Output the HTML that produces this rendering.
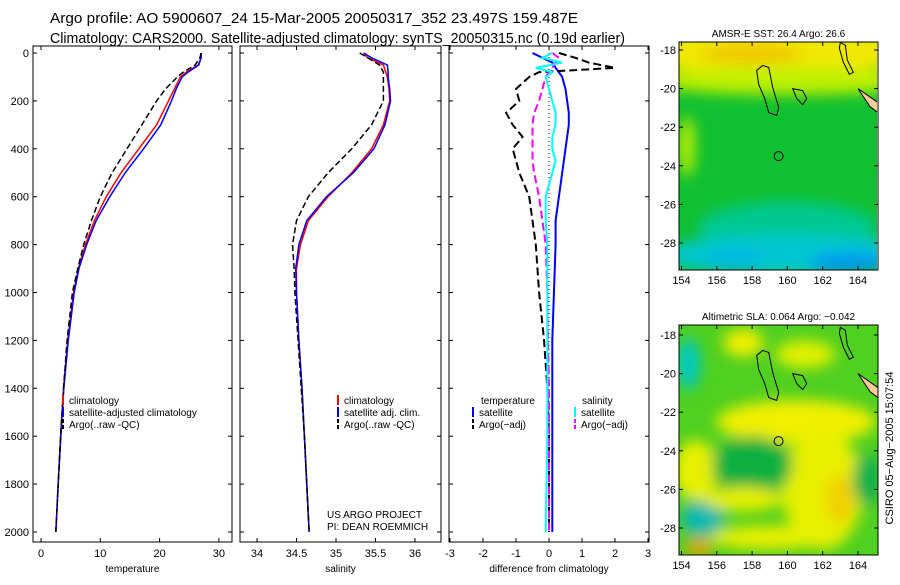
<!DOCTYPE html>
<html><head><meta charset="utf-8"><style>
body{margin:0;background:#fff;font-family:"Liberation Sans",sans-serif}
svg text{font-family:"Liberation Sans",sans-serif;fill:#000}
</style></head><body>
<svg id="c" width="900" height="580" xmlns="http://www.w3.org/2000/svg">
<defs>
<filter id="bl" x="-20%" y="-20%" width="140%" height="140%"><feGaussianBlur stdDeviation="7"/></filter>
<clipPath id="m1c"><rect x="679" y="42" width="198" height="228"/></clipPath>
<clipPath id="m2c"><rect x="679" y="325" width="199" height="230"/></clipPath>
</defs>
<text x="50" y="23" font-size="15" textLength="528" lengthAdjust="spacingAndGlyphs">Argo profile: AO 5900607_24 15-Mar-2005 20050317_352 23.497S 159.487E</text>
<text x="50" y="43" font-size="15" textLength="575" lengthAdjust="spacingAndGlyphs">Climatology: CARS2000. Satellite-adjusted climatology: synTS_20050315.nc (0.19d earlier)</text>
<g id="g"></g>
</svg>
<script>
const depths=[0,20,50,80,100,150,200,300,400,500,600,700,800,900,1000,1200,1400,1600,1800,2000];
const tClim=[27,27,26.5,24.5,23.5,22.5,21.5,19.5,16.5,13.5,11,9,7.5,6.3,5.5,4.5,3.8,3.3,2.9,2.5];
const tSat=[27,27,26.6,24.8,23.8,22.8,22,20.2,17.3,14.2,11.6,9.3,7.7,6.4,5.6,4.6,3.85,3.35,2.9,2.5];
const tArgo=[27,26.8,26,24,23,21,19.5,17,14.5,12,10,8.5,7.2,6.2,5.3,4.4,3.8,3.3,2.9,2.5];
const sClim=[35.35,35.4,35.6,35.63,35.65,35.67,35.68,35.6,35.45,35.2,34.9,34.65,34.55,34.5,34.5,34.53,34.57,34.6,34.63,34.66];
const sSat=[35.35,35.45,35.65,35.66,35.66,35.68,35.69,35.62,35.48,35.22,34.88,34.63,34.53,34.49,34.5,34.53,34.57,34.6,34.63,34.66];
const sArgo=[35.3,35.4,35.55,35.6,35.6,35.6,35.6,35.45,35.2,34.9,34.65,34.5,34.45,34.47,34.48,34.52,34.56,34.6,34.63,34.66];
const dDepths=[0,20,40,62,80,100,150,200,250,300,350,400,450,500,600,700,800,1000,1200,1400,1600,2000];
const dTSat=[-0.5,-0.2,0.1,0.2,0.3,0.4,0.5,0.55,0.6,0.6,0.55,0.5,0.45,0.4,0.3,0.2,0.2,0.15,0.1,0.1,0.1,0.1];
const dTArgo=[0.3,0.8,1.2,2.0,-0.3,-0.6,-1.0,-0.9,-1.3,-1.1,-0.8,-1.1,-1.0,-0.9,-0.6,-0.5,-0.4,-0.3,-0.15,-0.05,0,0];
const dSSat=[0.1,-0.2,0.4,-0.4,0.1,-0.1,0.0,0.1,0.2,0.2,0.1,0.1,0.2,0.1,-0.1,-0.1,-0.05,-0.05,-0.05,-0.05,-0.05,-0.1];
const dSArgo=[0.1,0.3,0.2,0.1,0.0,-0.1,-0.2,-0.3,-0.45,-0.5,-0.5,-0.5,-0.5,-0.45,-0.3,-0.2,-0.1,-0.05,-0.03,0,0,0];
const yTicks=[0,200,400,600,800,1000,1200,1400,1600,1800,2000];
const tTicks=[0,10,20,30],sTicks=[34,34.5,35,35.5,36],dTicks=[-3,-2,-1,0,1,2,3];
const lonTicks=[154,156,158,160,162,164],latTicks=[-18,-20,-22,-24,-26,-28];
const NS="http://www.w3.org/2000/svg",G=document.getElementById('g');
function el(t,a,p){const e=document.createElementNS(NS,t);for(const k in a)e.setAttribute(k,a[k]);(p||G).appendChild(e);return e;}
const Y=d=>53+d*0.2395;
const xT=v=>41+v*5.93,xS=v=>257+(v-34)*79,xD=v=>549+v*33;
function panel(name,x0,x1,xf,ticks,lab,labels){
  const g=el('g',{});
  el('rect',{x:x0,y:46,width:x1-x0,height:496,fill:'none',stroke:'#000'},g);
  yTicks.forEach(d=>{el('line',{x1:x0,x2:x0+4,y1:Y(d),y2:Y(d),stroke:'#000'},g);el('line',{x1:x1-4,x2:x1,y1:Y(d),y2:Y(d),stroke:'#000'},g);
    if(labels){const t=el('text',{x:x0-4,y:Y(d)+4,'font-size':11,'text-anchor':'end'},g);t.textContent=d;}});
  ticks.forEach(v=>{el('line',{x1:xf(v),x2:xf(v),y1:542,y2:538,stroke:'#000'},g);el('line',{x1:xf(v),x2:xf(v),y1:46,y2:50,stroke:'#000'},g);
    const t=el('text',{x:xf(v),y:557,'font-size':11,'text-anchor':'middle'},g);t.textContent=v;});
  const t=el('text',{x:(x0+x1)/2,y:572,'font-size':10,'text-anchor':'middle'},g);t.textContent=lab;return g;}
function line(g,name,xs,ds,xf,col,w,dash){const p=el('polyline',{points:xs.map((v,i)=>xf(v)+','+Y(ds[i])).join(' '),fill:'none',stroke:col,'stroke-width':w,'stroke-dasharray':dash||'none'},g);}
function leg(g,x,y,col,dash,txt,name){const gg=el('g',{},g);
  el('line',{x1:x,x2:x,y1:y-9,y2:y+1,stroke:col,'stroke-width':2,'stroke-dasharray':dash||'none'},gg);
  const t=el('text',{x:x+6,y:y,'font-size':10},gg);t.textContent=txt;}
let g1=panel('temperature-panel',33,232,xT,tTicks,'temperature',true);
line(g1,'temp-climatology',tClim,depths,xT,'#f00',1.5);
line(g1,'temp-satellite',tSat,depths,xT,'#00f',1.5);
line(g1,'temp-argo',tArgo,depths,xT,'#000',1.5,'6,3');
leg(g1,63,404,'#f00','','climatology','legend-climatology');leg(g1,63,416,'#00f','','satellite-adjusted climatology','legend-satellite');leg(g1,63,428,'#000','4,2','Argo(..raw -QC)','legend-argo');
let g2=panel('salinity-panel',240,441,xS,sTicks,'salinity',false);
line(g2,'sal-climatology',sClim,depths,xS,'#f00',1.5);
line(g2,'sal-satellite',sSat,depths,xS,'#00f',1.5);
line(g2,'sal-argo',sArgo,depths,xS,'#000',1.5,'6,3');
leg(g2,338,404,'#f00','','climatology','legend-climatology-2');leg(g2,338,416,'#00f','','satellite adj. clim.','legend-satellite-2');leg(g2,338,428,'#000','4,2','Argo(..raw -QC)','legend-argo-2');
let t1=el('text',{x:327,y:518,'font-size':10},g2);t1.textContent='US ARGO PROJECT';
let t2=el('text',{x:327,y:530,'font-size':10},g2);t2.textContent='PI: DEAN ROEMMICH';
let g3=panel('difference-panel',449,649,xD,dTicks,'difference from climatology',false);
el('line',{x1:xD(0),x2:xD(0),y1:53,y2:532,stroke:'#000','stroke-dasharray':'1,3'},g3);
line(g3,'diff-temp-satellite',dTSat,dDepths,xD,'#00f',2);
line(g3,'diff-temp-argo',dTArgo,dDepths,xD,'#000',2,'8,4');
line(g3,'diff-sal-argo',dSArgo,dDepths,xD,'#f0f',2,'8,4');
line(g3,'diff-sal-satellite',dSSat,dDepths,xD,'#0ff',2);
let tt=el('text',{x:481,y:404,'font-size':10},g3);tt.textContent='temperature';
let ts=el('text',{x:582,y:404,'font-size':10},g3);ts.textContent='salinity';
leg(g3,473,416,'#00f','','satellite','legend-temp-sat');leg(g3,473,428,'#000','4,2','Argo(−adj)','legend-temp-argo');
leg(g3,575,416,'#0ff','','satellite','legend-sal-sat');leg(g3,575,428,'#f0f','4,2','Argo(−adj)','legend-sal-argo');
// maps
function map(name,top,h,off,title,blobs,base){
  const g=el('g',{});
  const x0=679,w=199,lx=v=>681.5+(v-154)*17.65,ly=v=>top+off+(-18-v)*19.3;
  const inner=el('g',{'clip-path':'url(#'+(top<100?'m1c':'m2c')+')'},g);
  el('rect',{x:x0,y:top,width:w,height:h,fill:base},inner);
  const bg=el('g',{filter:'url(#bl)'},inner);
  blobs.forEach(b=>el('ellipse',{cx:lx(b[0]),cy:ly(b[1]),rx:b[2],ry:b[3],fill:b[4]},bg));
  el('path',{d:`M${lx(158.6)},${ly(-18.8)} l6,2 l4,20 l6,20 l-2,8 l-8,-3 l-4,-14 l-6,-14 l-2,-14 z`,fill:'none',stroke:'#000'},inner);
  el('path',{d:`M${lx(163)},${ly(-17.6)} l5,3 l2,15 l6,12 l-4,2 l-6,-12 l-4,-14 z`,fill:'none',stroke:'#000'},inner);
  el('path',{d:`M${lx(160.3)},${ly(-20)} l10,2 l4,8 l-4,6 l-6,-6 z`,fill:'none',stroke:'#000'},inner);
  el('path',{d:`M${lx(164)},${ly(-20)} l20,14 l0,10 l-8,-6 z`,fill:'#fc9',stroke:'#000'},inner);
  el('circle',{cx:lx(159.5),cy:ly(-23.5),r:4.5,fill:'none',stroke:'#000'},inner);
  el('rect',{x:x0,y:top,width:w,height:h,fill:'none',stroke:'#000'},g);
  lonTicks.forEach(v=>{el('line',{x1:lx(v),x2:lx(v),y1:top+h,y2:top+h-4,stroke:'#000'},g);el('line',{x1:lx(v),x2:lx(v),y1:top,y2:top+4,stroke:'#000'},g);const t=el('text',{x:lx(v),y:top+h+14,'font-size':11,'text-anchor':'middle'},g);t.textContent=v;});
  latTicks.forEach(v=>{el('line',{x1:x0,x2:x0+4,y1:ly(v),y2:ly(v),stroke:'#000'},g);el('line',{x1:x0+w-4,x2:x0+w,y1:ly(v),y2:ly(v),stroke:'#000'},g);const t=el('text',{x:x0-3,y:ly(v)+4,'font-size':11,'text-anchor':'end'},g);t.textContent=v;});
  const t=el('text',{x:x0+w/2,y:top-5,'font-size':10,'text-anchor':'middle'},g);t.textContent=title;}
map('sst-map',42,228,8,'AMSR-E SST: 26.4 Argo: 26.6',[
 [159,-18,160,24,'#f0e800'],[158,-18.2,50,10,'#f0c800'],[160,-19.6,140,14,'#c0f000'],[154.3,-23,8,30,'#c0f000'],
 [160,-27.2,90,26,'#00c890'],[160,-28.6,130,20,'#00c8d0'],[163.5,-29,40,10,'#0098f0'],[157,-28.8,30,10,'#00b8e0']],'#10c030');
map('sla-map',325,230,10,'Altimetric SLA: 0.064 Argo: −0.042',[
 [160.5,-22.5,80,22,'#f0f000'],[162,-26,40,60,'#e8f000'],[154.8,-25,22,30,'#e8f000'],[157.5,-18.4,20,14,'#f0f000'],
 [158,-24.8,40,30,'#10b040'],[154.4,-19.5,12,26,'#00c8c0'],[155.2,-27.5,22,18,'#10b8b0'],[157.5,-26.5,40,12,'#e8f000'],
 [164.5,-25.5,14,26,'#10b050'],[163,-26.5,14,24,'#f0d000'],[155,-29,14,8,'#f0a000'],[159,-28.5,60,12,'#e8f000'],[161,-19,30,14,'#e0f000']],'#50d020');
const c=el('text',{x:893,y:448,'font-size':11,transform:'rotate(-90 893 448)','text-anchor':'middle'});c.textContent='CSIRO 05−Aug−2005 15:07:54';


</script>
</body></html>
